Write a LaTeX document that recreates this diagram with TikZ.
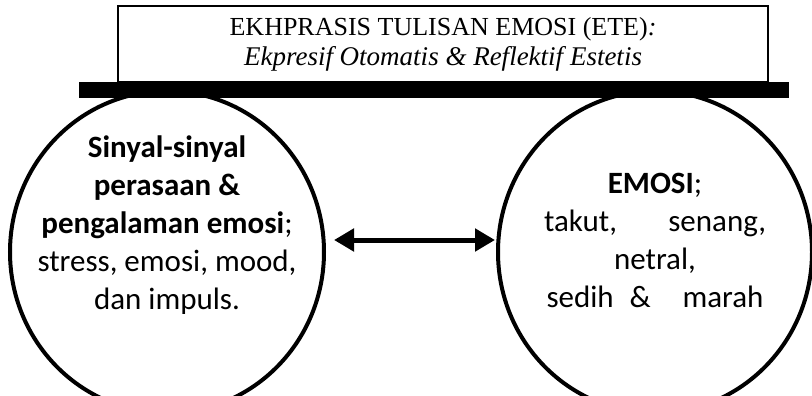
\documentclass[tikz,border=0pt]{standalone}
\usepackage{fontspec}
\setmainfont{Carlito}
\newfontfamily\titlefont{Liberation Serif}
\usetikzlibrary{arrows.meta,shapes.geometric}
\begin{document}
\begin{tikzpicture}[x=1pt,y=-1pt,
  ring/.style={ellipse,draw,line width=4pt,minimum width=314pt,minimum height=322pt,inner sep=0pt},
  bodytext/.style={align=center,inner sep=0pt,font=\fontsize{31}{38}\selectfont},
  headbox/.style={draw,line width=1.3pt,minimum width=650pt,minimum height=76pt,
    align=center,inner sep=0pt,font=\titlefont\fontsize{26}{30}\selectfont},
  shelf/.style={fill=black,minimum width=710pt,minimum height=16pt,inner sep=0pt},
  link/.style={line width=5pt,{Triangle[length=20pt,width=22pt]}-{Triangle[length=20pt,width=22pt]}}]
\useasboundingbox (0,0) rectangle (812,396);

% the two circles
\node[ring] (left) at (167,252) {};
\node[ring] (right) at (655,252) {};

% circle texts
\node[bodytext] (lefttext) at (167,225)
  {\textbf{Sinyal-sinyal}\\ \textbf{perasaan \&}\\ \textbf{pengalaman emosi};\\
   stress, emosi, mood,\\ dan impuls.};
\node[bodytext] (righttext) at (655,240)
  {\textbf{EMOSI};\\ \makebox[222pt][s]{takut, senang,}\\ netral,\\
   \makebox[217pt][s]{sedih \& \ marah}};

% heading box and the thick bar under it
\node[headbox] (head) at (443,44)
  {EKHPRASIS TULISAN EMOSI (ETE)\textit{:}\\
   {\fontsize{27}{30}\selectfont\itshape Ekpresif Otomatis \& Reflektif Estetis}};
\node[shelf] (bar) at (434,90) {};

% double-headed link
\draw[link] ([xshift=8pt,yshift=12pt]left.east) -- ([xshift=-1pt,yshift=12pt]right.west);
\end{tikzpicture}
\end{document}
